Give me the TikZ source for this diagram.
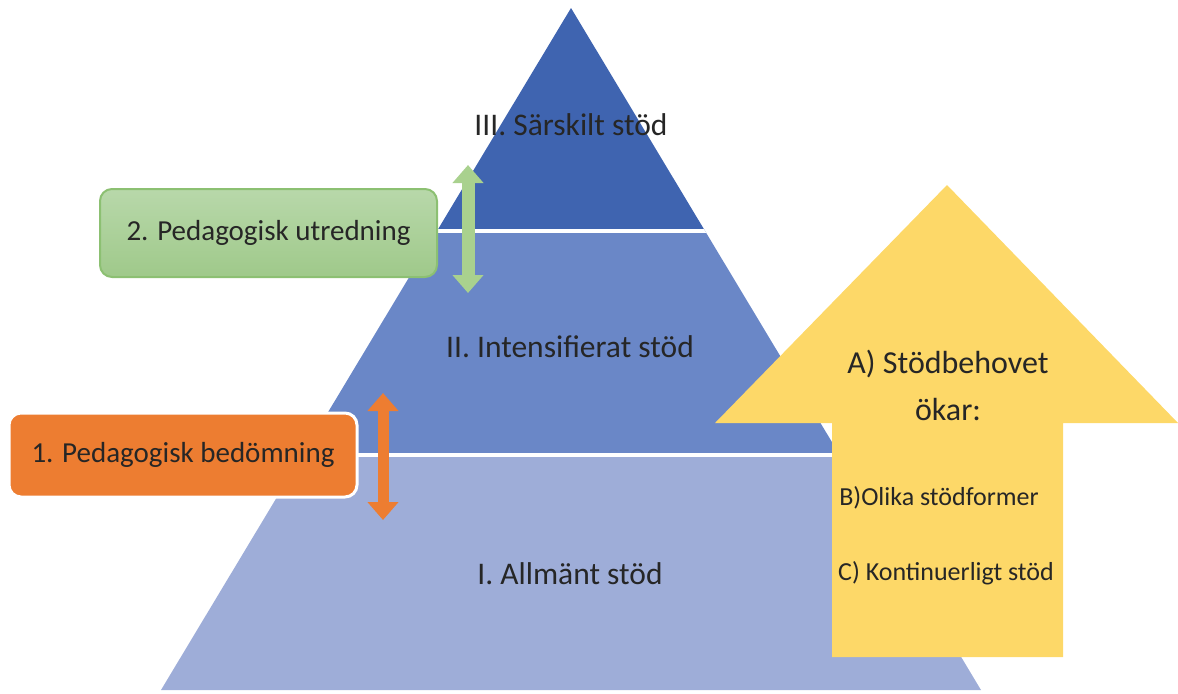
\documentclass[tikz,border=0pt]{standalone}
\usepackage{fontspec}
\setmainfont{Carlito}
\usepackage{tikz}
\usetikzlibrary{calc,shapes,arrows.meta,positioning}

\definecolor{nivaI}{HTML}{9EADD8}
\definecolor{nivaII}{HTML}{6A87C7}
\definecolor{nivaIII}{HTML}{3F64B0}
\definecolor{gulpil}{HTML}{FDD868}
\definecolor{orangebox}{HTML}{ED7D31}
\definecolor{grontop}{HTML}{B8D8AA}
\definecolor{gronbot}{HTML}{9FC98A}
\definecolor{gronram}{HTML}{8CC072}
\definecolor{gronpil}{HTML}{A9D18E}

\begin{document}
\begin{tikzpicture}[x=0.5pt,y=-0.5pt]
          %% STODTRAPPAN
          \useasboundingbox (0,0) rectangle (1178,693);

          \tikzstyle{niva}=[font=\fontsize{15.75}{19}\selectfont, text=black!85, anchor=base]
          \tikzstyle{piltext}=[font=\fontsize{13}{16}\selectfont, text=black!85, anchor=base]
          \tikzstyle{ruta}=[rounded corners=6pt, font=\fontsize{14.5}{17}\selectfont, text=black!85]
          \tikzstyle{dubbelpil}=[{Triangle[length=9pt,width=15pt]}-{Triangle[length=9pt,width=15pt]}]

          % pyramiden
          \coordinate (topp) at (571,8);
          \coordinate (vbas) at (161,690);
          \coordinate (hbas) at (981,690);
          \begin{scope}
            \clip (topp) -- (vbas) -- (hbas) -- cycle;
            \fill[nivaI] (0,455) rectangle (1178,693);
            \fill[nivaII] (0,231) rectangle (1178,455);
            \fill[nivaIII] (0,0) rectangle (1178,231);
            \draw[white, line width=2pt] (0,231) -- (1178,231);
            \draw[white, line width=2pt] (0,455) -- (1178,455);
          \end{scope}

          \node[niva] (N3) at (571,135) {III. Särskilt stöd};
          \node[niva] (N2) at (570,357) {II. Intensifierat stöd};
          \node[niva] (N1) at (570,584) {I. Allmänt stöd};

          % gula pilen
          \fill[gulpil] (947,185) -- (1178,423) -- (1063,423) -- (1063,657)
                -- (832,657) -- (832,423) -- (715,423) -- cycle;

          \node[niva, font=\fontsize{16}{23.5}\selectfont, align=center] (behov) at (948,420) {A) Stödbehovet\\ökar:};
          \node[piltext] (former) at (939,505) {B)Olika stödformer};
          \node[piltext] (kont) at (946,580) {C) Kontinuerligt stöd};

          % rutorna
          \node[ruta, draw=gronram, line width=1pt, top color=grontop, bottom color=gronbot,
                minimum width=168.5pt, minimum height=44pt] (utred) at (268.5,233) {2. Pedagogisk utredning};
          \node[ruta, draw=white, line width=1.5pt, fill=orangebox,
                minimum width=174pt, minimum height=42pt] (bedom) at (183,455) {1. Pedagogisk bedömning};

          % dubbelpilarna
          \coordinate (U1) at (468,165);
          \coordinate (U2) at (468,293);
          \draw[dubbelpil, gronpil, line width=6.5pt] (U1) -- (U2);

          \coordinate (B1) at (383,393);
          \coordinate (B2) at (383,520);
          \draw[dubbelpil, orangebox, line width=5.5pt] (B1) -- (B2);
\end{tikzpicture}
\end{document}
